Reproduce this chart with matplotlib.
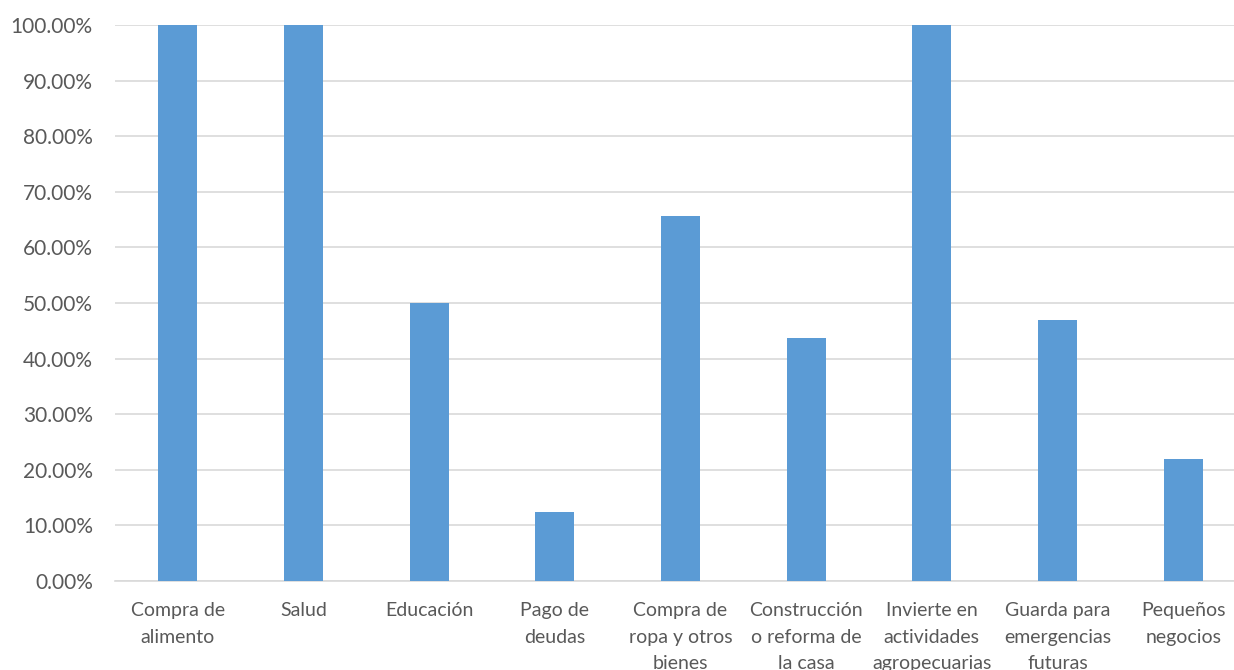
import matplotlib
matplotlib.use("Agg")
import matplotlib.pyplot as plt
import numpy as np
from matplotlib.ticker import FuncFormatter

categories = [
    "Compra de\nalimento",
    "Salud",
    "Educación",
    "Pago de\ndeudas",
    "Compra de\nropa y otros\nbienes",
    "Construcción\no reforma de\nla casa",
    "Invierte en\nactividades\nagropecuarias",
    "Guarda para\nemergencias\nfuturas",
    "Pequeños\nnegocios",
]
values = [1.0, 1.0, 0.5, 0.125, 0.65625, 0.4375, 1.0, 0.46875, 0.21875]

BAR_COLOR = "#5B9BD5"
GRID_COLOR = "#D9D9D9"
TEXT_COLOR = "#595959"

plt.rcParams["font.family"] = ["Lato", "DejaVu Sans"]

fig = plt.figure(figsize=(12.34, 6.70), dpi=100)
ax = fig.add_axes([115 / 1234, 1 - 581 / 670, 1131 / 1234, 556 / 670])

x = np.arange(len(categories))
ax.bar(x, values, width=0.31, color=BAR_COLOR, zorder=3)

ax.set_xlim(-0.5, len(categories) - 0.5)
ax.set_ylim(0, 1.0)
ax.set_yticks(np.linspace(0, 1, 11))
ax.yaxis.set_major_formatter(FuncFormatter(lambda v, _: f"{v * 100:.2f}%"))
ax.set_xticks(x)
ax.set_xticklabels(categories, fontsize=14, color=TEXT_COLOR, linespacing=1.7)
ax.tick_params(axis="y", labelsize=15, labelcolor=TEXT_COLOR, length=0, pad=16)
ax.tick_params(axis="x", length=0, pad=15)

ax.grid(axis="y", color=GRID_COLOR, linewidth=1.2, zorder=0)
for side in ["top", "right", "left"]:
    ax.spines[side].set_visible(False)
ax.spines["bottom"].set_color(GRID_COLOR)
ax.spines["bottom"].set_linewidth(1.2)

fig.savefig("out.png", dpi=100)
